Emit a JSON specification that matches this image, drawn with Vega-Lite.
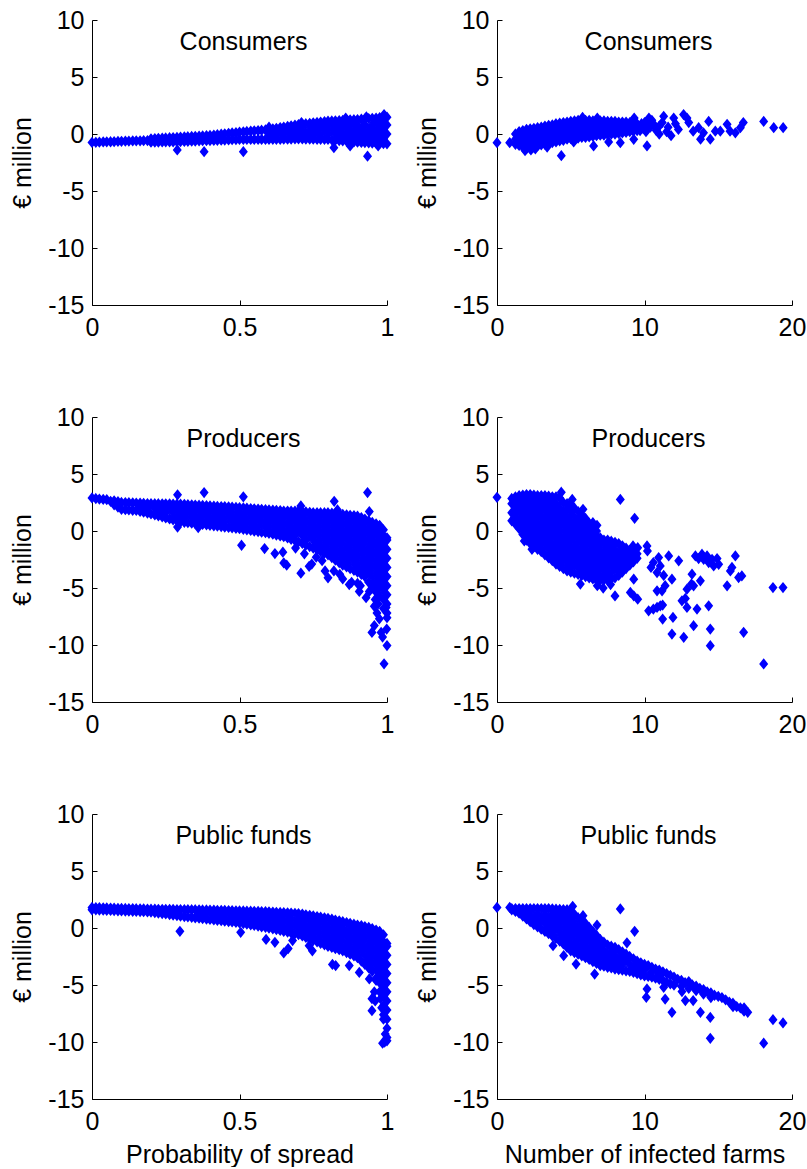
{
"$schema":"https://vega.github.io/schema/vega-lite/v6.json",
"background":"white",
"padding":{"left":10,"top":8,"right":0,"bottom":0},
"bounds":"flush",
"columns":2,
"spacing":{"row":112,"column":110},
"config":{
"view":{"stroke":null},
"font":"Liberation Sans",
"point":{"shape":"M0,-1L0.8,0L0,1L-0.8,0Z","filled":true,"size":76,"color":"#0000ff","fill":"#0000ff","stroke":"#0000ff","strokeWidth":1.6,"strokeJoin":"miter","opacity":1},
"axis":{"grid":false,"domainColor":"#000","domainWidth":1,"tickColor":"#000","tickWidth":1,"tickSize":-5,"labelFont":"Liberation Sans","labelFontSize":25,"labelColor":"#000","titleFont":"Liberation Sans","titleFontSize":25,"titleFontWeight":"normal","titleColor":"#000","labelFlush":false,"labelOverlap":false},
"axisY":{"labelPadding":13,"titlePadding":12},
"axisX":{"labelPadding":15,"titlePadding":8},
"title":{"font":"Liberation Sans","fontSize":25,"fontWeight":"normal","color":"#000","offset":-47,"baseline":"alphabetic","anchor":"middle","dx":4}
},
"datasets":{
"a":[
{"x":0,"y":-0.74},{"x":0.013,"y":-0.73},{"x":0.025,"y":-0.72},{"x":0.038,"y":-0.7},{"x":0.05,"y":-0.69},{"x":0.063,"y":-0.68},{"x":0.075,"y":-0.67},{"x":0.088,"y":-0.65},{"x":0.1,"y":-0.64},{"x":0.113,"y":-0.63},{"x":0.125,"y":-0.62},{"x":0.138,"y":-0.61},{"x":0.15,"y":-0.6},{"x":0.163,"y":-0.6},{"x":0.175,"y":-0.59},{"x":0.188,"y":-0.58},
{"x":0.2,"y":-0.72},{"x":0.2,"y":-0.42},{"x":0.213,"y":-0.71},{"x":0.213,"y":-0.4},{"x":0.225,"y":-0.71},{"x":0.225,"y":-0.38},{"x":0.238,"y":-0.7},{"x":0.238,"y":-0.37},{"x":0.25,"y":-0.69},{"x":0.25,"y":-0.35},{"x":0.263,"y":-0.69},{"x":0.263,"y":-0.33},{"x":0.275,"y":-0.68},{"x":0.275,"y":-0.31},{"x":0.288,"y":-0.67},{"x":0.288,"y":-0.3},{"x":0.3,"y":-0.66},{"x":0.3,"y":-0.28},{"x":0.313,"y":-0.65},{"x":0.313,"y":-0.26},{"x":0.325,"y":-0.64},{"x":0.325,"y":-0.24},{"x":0.338,"y":-0.63},{"x":0.338,"y":-0.22},{"x":0.35,"y":-0.62},{"x":0.35,"y":-0.2},{"x":0.363,"y":-0.6},{"x":0.363,"y":-0.19},{"x":0.375,"y":-0.59},{"x":0.375,"y":-0.17},{"x":0.388,"y":-0.58},{"x":0.388,"y":-0.15},{"x":0.4,"y":-0.57},{"x":0.4,"y":-0.13},{"x":0.413,"y":-0.56},{"x":0.413,"y":-0.09},{"x":0.425,"y":-0.55},{"x":0.425,"y":-0.06},{"x":0.438,"y":-0.54},{"x":0.438,"y":-0.02},{"x":0.45,"y":-0.53},{"x":0.45,"y":0.02},{"x":0.463,"y":-0.52},{"x":0.463,"y":0.06},{"x":0.475,"y":-0.5},{"x":0.475,"y":0.09},{"x":0.488,"y":-0.49},{"x":0.488,"y":0.12},
{"x":0.5,"y":-0.48},{"x":0.5,"y":0.16},{"x":0.513,"y":-0.48},{"x":0.513,"y":0.19},{"x":0.525,"y":-0.48},{"x":0.525,"y":0.22},{"x":0.538,"y":-0.48},{"x":0.538,"y":0.25},{"x":0.55,"y":-0.48},{"x":0.55,"y":0.28},{"x":0.563,"y":-0.48},{"x":0.563,"y":0.3},{"x":0.575,"y":-0.48},{"x":0.575,"y":0.33},{"x":0.588,"y":-0.48},{"x":0.588,"y":0.36},
{"x":0.6,"y":-0.48},{"x":0.6,"y":0},{"x":0.6,"y":0.39},{"x":0.613,"y":-0.47},{"x":0.613,"y":0.45},{"x":0.625,"y":-0.47},{"x":0.625,"y":0},{"x":0.625,"y":0.5},{"x":0.638,"y":-0.46},{"x":0.638,"y":0.4},{"x":0.638,"y":0.56},{"x":0.65,"y":-0.45},{"x":0.65,"y":0},{"x":0.65,"y":0.61},{"x":0.663,"y":-0.45},{"x":0.663,"y":0.4},{"x":0.663,"y":0.66},{"x":0.675,"y":-0.44},{"x":0.675,"y":0},{"x":0.675,"y":0.72},{"x":0.688,"y":-0.43},{"x":0.688,"y":0.4},{"x":0.688,"y":0.77},
{"x":0.7,"y":-0.42},{"x":0.7,"y":0},{"x":0.7,"y":0.83},{"x":0.713,"y":-0.43},{"x":0.713,"y":0.4},{"x":0.713,"y":0.87},{"x":0.725,"y":-0.44},{"x":0.725,"y":0},{"x":0.725,"y":0.9},{"x":0.738,"y":-0.44},{"x":0.738,"y":0.4},{"x":0.738,"y":0.94},{"x":0.75,"y":-0.45},{"x":0.75,"y":0},{"x":0.75,"y":0.8},{"x":0.75,"y":0.98},{"x":0.763,"y":-0.46},{"x":0.763,"y":0.4},{"x":0.763,"y":1.01},{"x":0.775,"y":-0.47},{"x":0.775,"y":0},{"x":0.775,"y":0.8},{"x":0.775,"y":1.05},{"x":0.788,"y":-0.47},{"x":0.788,"y":0.4},{"x":0.788,"y":1.08},
{"x":0.8,"y":-0.48},{"x":0.8,"y":0},{"x":0.8,"y":0.8},{"x":0.8,"y":1.12},{"x":0.813,"y":-0.51},{"x":0.813,"y":0.4},{"x":0.813,"y":1.14},{"x":0.825,"y":-0.54},{"x":0.825,"y":0},{"x":0.825,"y":0.8},{"x":0.825,"y":1.16},{"x":0.838,"y":-0.57},{"x":0.838,"y":-0.4},{"x":0.838,"y":0.4},{"x":0.838,"y":1.17},{"x":0.85,"y":-0.6},{"x":0.85,"y":0},{"x":0.85,"y":0.8},{"x":0.85,"y":1.19},{"x":0.863,"y":-0.63},{"x":0.863,"y":-0.4},{"x":0.863,"y":0.4},{"x":0.863,"y":1.21},{"x":0.875,"y":-0.66},{"x":0.875,"y":0},{"x":0.875,"y":0.8},{"x":0.875,"y":1.23},{"x":0.888,"y":-0.69},{"x":0.888,"y":-0.4},{"x":0.888,"y":0.4},{"x":0.888,"y":1.25},
{"x":0.9,"y":-0.72},{"x":0.9,"y":0},{"x":0.9,"y":0.8},{"x":0.9,"y":1.27},{"x":0.913,"y":-0.74},{"x":0.913,"y":-0.4},{"x":0.913,"y":0.4},{"x":0.913,"y":1.3},{"x":0.925,"y":-0.75},{"x":0.925,"y":0},{"x":0.925,"y":0.8},{"x":0.925,"y":1.32},{"x":0.938,"y":-0.77},{"x":0.938,"y":-0.4},{"x":0.938,"y":0.4},{"x":0.938,"y":1.35},{"x":0.95,"y":-0.79},{"x":0.95,"y":0},{"x":0.95,"y":0.8},{"x":0.95,"y":1.38},{"x":0.963,"y":-0.8},{"x":0.963,"y":-0.4},{"x":0.963,"y":0.4},{"x":0.963,"y":1.2},{"x":0.963,"y":1.4},{"x":0.975,"y":-0.82},{"x":0.975,"y":0},{"x":0.975,"y":0.8},{"x":0.975,"y":1.43},{"x":0.988,"y":-0.84},{"x":0.988,"y":-0.4},{"x":0.988,"y":0.4},{"x":0.988,"y":1.2},{"x":0.988,"y":1.45},{"x":1,"y":-0.86},{"x":1,"y":0},{"x":1,"y":0.8},{"x":1,"y":1.48},
{"x":0.289,"y":-1.4},{"x":0.38,"y":-1.55},{"x":0.513,"y":-1.55},{"x":0.82,"y":-1.2},{"x":0.875,"y":-1.05},{"x":0.934,"y":-1.95},{"x":0.99,"y":1.7},{"x":0.93,"y":1.5},{"x":0.86,"y":1.4},{"x":0.71,"y":1.0},{"x":0.6,"y":0.6},{"x":0.97,"y":-1.05}
],
"b":[
{"x":0,"y":-0.76},{"x":0.86,"y":-0.76},
{"x":1.25,"y":-0.9},{"x":1.25,"y":-0.45},{"x":1.25,"y":0},
{"x":1.5,"y":-1.0},{"x":1.5,"y":-0.4},{"x":1.5,"y":0.2},
{"x":1.75,"y":-1.15},{"x":1.75,"y":-0.7},{"x":1.75,"y":-0.2},{"x":1.75,"y":0.3},
{"x":2,"y":-1.3},{"x":2,"y":-0.7},{"x":2,"y":-0.1},{"x":2,"y":0.4},
{"x":2.25,"y":-1.25},{"x":2.25,"y":-0.95},{"x":2.25,"y":-0.4},{"x":2.25,"y":0.15},{"x":2.25,"y":0.45},
{"x":2.5,"y":-1.15},{"x":2.5,"y":-0.6},{"x":2.5,"y":-0.05},{"x":2.5,"y":0.5},
{"x":2.75,"y":-1.05},{"x":2.75,"y":-0.75},{"x":2.75,"y":-0.25},{"x":2.75,"y":0.25},{"x":2.75,"y":0.55},
{"x":3,"y":-0.95},{"x":3,"y":-0.4},{"x":3,"y":0.1},{"x":3,"y":0.6},
{"x":3.25,"y":-0.9},{"x":3.25,"y":-0.6},{"x":3.25,"y":-0.1},{"x":3.25,"y":0.35},{"x":3.25,"y":0.7},
{"x":3.5,"y":-0.85},{"x":3.5,"y":-0.3},{"x":3.5,"y":0.2},{"x":3.5,"y":0.75},
{"x":3.75,"y":-0.75},{"x":3.75,"y":-0.45},{"x":3.75,"y":0.05},{"x":3.75,"y":0.5},{"x":3.75,"y":0.8},
{"x":4,"y":-0.7},{"x":4,"y":-0.15},{"x":4,"y":0.35},{"x":4,"y":0.9},
{"x":4.25,"y":-0.6},{"x":4.25,"y":-0.3},{"x":4.25,"y":0.2},{"x":4.25,"y":0.65},{"x":4.25,"y":0.95},
{"x":4.5,"y":-0.55},{"x":4.5,"y":0},{"x":4.5,"y":0.5},{"x":4.5,"y":1.0},
{"x":4.75,"y":-0.45},{"x":4.75,"y":-0.15},{"x":4.75,"y":0.3},{"x":4.75,"y":0.75},{"x":4.75,"y":1.05},
{"x":5,"y":-0.4},{"x":5,"y":0.1},{"x":5,"y":0.6},{"x":5,"y":1.1},
{"x":5.25,"y":-0.35},{"x":5.25,"y":-0.05},{"x":5.25,"y":0.4},{"x":5.25,"y":0.85},{"x":5.25,"y":1.15},
{"x":5.5,"y":-0.35},{"x":5.5,"y":0.15},{"x":5.5,"y":0.7},{"x":5.5,"y":1.2},
{"x":5.75,"y":-0.3},{"x":5.75,"y":0},{"x":5.75,"y":0.45},{"x":5.75,"y":0.95},{"x":5.75,"y":1.25},
{"x":6,"y":-0.3},{"x":6,"y":0.2},{"x":6,"y":0.7},{"x":6,"y":1.2},
{"x":6.25,"y":-0.25},{"x":6.25,"y":0.05},{"x":6.25,"y":0.5},{"x":6.25,"y":0.9},{"x":6.25,"y":1.2},
{"x":6.5,"y":-0.2},{"x":6.5,"y":0.25},{"x":6.5,"y":0.7},{"x":6.5,"y":1.15},
{"x":6.75,"y":-0.15},{"x":6.75,"y":0.1},{"x":6.75,"y":0.5},{"x":6.75,"y":0.9},{"x":6.75,"y":1.15},
{"x":7,"y":-0.1},{"x":7,"y":0.35},{"x":7,"y":0.75},{"x":7,"y":1.15},
{"x":7.25,"y":-0.1},{"x":7.25,"y":0.15},{"x":7.25,"y":0.55},{"x":7.25,"y":0.9},{"x":7.25,"y":1.15},
{"x":7.5,"y":-0.05},{"x":7.5,"y":0.35},{"x":7.5,"y":0.75},{"x":7.5,"y":1.1},
{"x":7.75,"y":0},{"x":7.75,"y":0.3},{"x":7.75,"y":0.65},{"x":7.75,"y":1.1},
{"x":8,"y":0},{"x":8,"y":0.45},{"x":8,"y":0.85},{"x":8,"y":1.1},
{"x":8.25,"y":0.05},{"x":8.25,"y":0.3},{"x":8.25,"y":0.65},{"x":8.25,"y":1.05},
{"x":8.5,"y":0.1},{"x":8.5,"y":0.5},{"x":8.5,"y":0.85},{"x":8.5,"y":1.05},
{"x":8.75,"y":0.15},{"x":8.75,"y":0.35},{"x":8.75,"y":0.7},{"x":8.75,"y":1.05},
{"x":9,"y":0.2},{"x":9,"y":0.6},{"x":9,"y":1.0},
{"x":9.25,"y":0.25},{"x":9.25,"y":0.6},{"x":9.25,"y":0.95},
{"x":9.5,"y":0.3},{"x":9.5,"y":0.9},
{"x":1.9,"y":-1.45},{"x":2.3,"y":-1.4},{"x":2.6,"y":-1.3},{"x":3.4,"y":-1.15},{"x":4.36,"y":-1.9},{"x":6.55,"y":-1.05},{"x":7.57,"y":-0.7},{"x":8.36,"y":-0.76},{"x":9.27,"y":-0.47},{"x":10.17,"y":-1.05},{"x":5.2,"y":-0.7},{"x":5.8,"y":1.45},{"x":6.8,"y":1.4},{"x":9.3,"y":1.4},{"x":10.3,"y":1.4},{"x":9.8,"y":0.9},{"x":9.9,"y":0.5},{"x":10.1,"y":0.2},{"x":10.4,"y":0.6},{"x":10.6,"y":0.9},{"x":10.8,"y":0.3},{"x":11,"y":0.7},{"x":11.3,"y":1.55},{"x":11.5,"y":0.2},{"x":11.8,"y":-0.15},{"x":11.98,"y":1.4},{"x":12.3,"y":0.4},{"x":12.65,"y":1.7},{"x":12.88,"y":1.4},{"x":13,"y":1.0},{"x":13.3,"y":0.25},{"x":13.67,"y":0.55},{"x":13.8,"y":-0.45},{"x":14,"y":0.1},{"x":14.35,"y":1.1},{"x":14.46,"y":-0.45},{"x":14.8,"y":0.25},{"x":15.14,"y":0.25},{"x":15.6,"y":0.85},{"x":15.8,"y":0.25},{"x":16.16,"y":0.1},{"x":16.5,"y":0.55},{"x":16.7,"y":1.0},{"x":18.08,"y":1.1},{"x":18.76,"y":0.55},{"x":19.4,"y":0.55},{"x":10,"y":1.0},{"x":10.5,"y":1.2},{"x":11,"y":0},{"x":11.2,"y":1.0},{"x":12.1,"y":0.9},{"x":9.7,"y":0.3},{"x":10.2,"y":0.8},{"x":11.6,"y":0.6}
],
"c":[
{"x":0,"y":2.9},{"x":0.013,"y":2.85},{"x":0.025,"y":2.8},{"x":0.038,"y":2.77},{"x":0.05,"y":2.75},{"x":0.063,"y":2.6},
{"x":0.075,"y":2.3},{"x":0.075,"y":2.65},{"x":0.088,"y":2.1},{"x":0.088,"y":2.57},{"x":0.1,"y":1.9},{"x":0.1,"y":2.5},{"x":0.113,"y":1.87},{"x":0.113,"y":2.49},{"x":0.125,"y":1.85},{"x":0.125,"y":2.48},{"x":0.138,"y":1.82},{"x":0.138,"y":2.46},{"x":0.15,"y":1.8},{"x":0.15,"y":2.45},
{"x":0.163,"y":1.72},{"x":0.163,"y":2.0},{"x":0.163,"y":2.44},{"x":0.175,"y":1.65},{"x":0.175,"y":2.43},{"x":0.188,"y":1.57},{"x":0.188,"y":2.0},{"x":0.188,"y":2.41},{"x":0.2,"y":1.5},{"x":0.2,"y":2.4},
{"x":0.213,"y":1.41},{"x":0.213,"y":2.0},{"x":0.213,"y":2.39},{"x":0.225,"y":1.33},{"x":0.225,"y":1.6},{"x":0.225,"y":2.39},{"x":0.238,"y":1.24},{"x":0.238,"y":2.0},{"x":0.238,"y":2.38},{"x":0.25,"y":1.15},{"x":0.25,"y":1.6},{"x":0.25,"y":2.38},
{"x":0.263,"y":1.06},{"x":0.263,"y":2.0},{"x":0.263,"y":2.37},{"x":0.275,"y":0.98},{"x":0.275,"y":1.6},{"x":0.275,"y":2.36},{"x":0.288,"y":0.89},{"x":0.288,"y":1.2},{"x":0.288,"y":2.0},{"x":0.288,"y":2.36},{"x":0.3,"y":0.8},{"x":0.3,"y":1.6},{"x":0.3,"y":2.35},
{"x":0.313,"y":0.76},{"x":0.313,"y":1.2},{"x":0.313,"y":2.0},{"x":0.313,"y":2.33},{"x":0.325,"y":0.73},{"x":0.325,"y":1.6},{"x":0.325,"y":2.31},{"x":0.338,"y":0.69},{"x":0.338,"y":1.2},{"x":0.338,"y":2.0},{"x":0.338,"y":2.29},{"x":0.35,"y":0.65},{"x":0.35,"y":0.8},{"x":0.35,"y":1.6},{"x":0.35,"y":2.27},
{"x":0.363,"y":0.61},{"x":0.363,"y":1.2},{"x":0.363,"y":2.0},{"x":0.363,"y":2.26},{"x":0.375,"y":0.58},{"x":0.375,"y":0.8},{"x":0.375,"y":1.6},{"x":0.375,"y":2.24},{"x":0.388,"y":0.54},{"x":0.388,"y":1.2},{"x":0.388,"y":2.0},{"x":0.388,"y":2.22},{"x":0.4,"y":0.5},{"x":0.4,"y":0.8},{"x":0.4,"y":1.6},{"x":0.4,"y":2.2},
{"x":0.413,"y":0.46},{"x":0.413,"y":1.2},{"x":0.413,"y":2.0},{"x":0.413,"y":2.18},{"x":0.425,"y":0.43},{"x":0.425,"y":0.8},{"x":0.425,"y":1.6},{"x":0.425,"y":2.16},{"x":0.438,"y":0.39},{"x":0.438,"y":1.2},{"x":0.438,"y":2.0},{"x":0.438,"y":2.14},{"x":0.45,"y":0.35},{"x":0.45,"y":0.8},{"x":0.45,"y":1.6},{"x":0.45,"y":2.13},
{"x":0.463,"y":0.31},{"x":0.463,"y":1.2},{"x":0.463,"y":2.0},{"x":0.463,"y":2.11},{"x":0.475,"y":0.28},{"x":0.475,"y":0.8},{"x":0.475,"y":1.6},{"x":0.475,"y":2.09},{"x":0.488,"y":0.24},{"x":0.488,"y":0.4},{"x":0.488,"y":1.2},{"x":0.488,"y":2.07},{"x":0.5,"y":0.2},{"x":0.5,"y":0.8},{"x":0.5,"y":1.6},{"x":0.5,"y":2.05},
{"x":0.513,"y":0.15},{"x":0.513,"y":0.4},{"x":0.513,"y":1.2},{"x":0.513,"y":2.02},{"x":0.525,"y":0.1},{"x":0.525,"y":0.8},{"x":0.525,"y":1.6},{"x":0.525,"y":2.0},{"x":0.538,"y":0.05},{"x":0.538,"y":0.4},{"x":0.538,"y":1.2},{"x":0.538,"y":1.97},{"x":0.55,"y":0},{"x":0.55,"y":0.8},{"x":0.55,"y":1.6},{"x":0.55,"y":1.95},
{"x":0.563,"y":-0.05},{"x":0.563,"y":0.4},{"x":0.563,"y":1.2},{"x":0.563,"y":1.92},{"x":0.575,"y":-0.1},{"x":0.575,"y":0.8},{"x":0.575,"y":1.6},{"x":0.575,"y":1.9},{"x":0.588,"y":-0.15},{"x":0.588,"y":0.4},{"x":0.588,"y":1.2},{"x":0.588,"y":1.87},{"x":0.6,"y":-0.2},{"x":0.6,"y":0},{"x":0.6,"y":0.8},{"x":0.6,"y":1.6},{"x":0.6,"y":1.85},
{"x":0.613,"y":-0.28},{"x":0.613,"y":0.4},{"x":0.613,"y":1.2},{"x":0.613,"y":1.83},{"x":0.625,"y":-0.35},{"x":0.625,"y":0},{"x":0.625,"y":0.8},{"x":0.625,"y":1.6},{"x":0.625,"y":1.8},{"x":0.638,"y":-0.43},{"x":0.638,"y":0.4},{"x":0.638,"y":1.2},{"x":0.638,"y":1.78},{"x":0.65,"y":-0.5},{"x":0.65,"y":0},{"x":0.65,"y":0.8},{"x":0.65,"y":1.6},{"x":0.65,"y":1.75},
{"x":0.663,"y":-0.61},{"x":0.663,"y":-0.4},{"x":0.663,"y":0.4},{"x":0.663,"y":1.2},{"x":0.663,"y":1.75},{"x":0.675,"y":-0.73},{"x":0.675,"y":0},{"x":0.675,"y":0.8},{"x":0.675,"y":1.6},{"x":0.675,"y":1.75},{"x":0.688,"y":-0.84},{"x":0.688,"y":-0.4},{"x":0.688,"y":0.4},{"x":0.688,"y":1.2},{"x":0.688,"y":1.75},
{"x":0.7,"y":-0.95},{"x":0.7,"y":0},{"x":0.7,"y":0.8},{"x":0.7,"y":1.6},{"x":0.7,"y":1.75},{"x":0.713,"y":-1.09},{"x":0.713,"y":-0.4},{"x":0.713,"y":0.4},{"x":0.713,"y":1.2},{"x":0.713,"y":1.71},{"x":0.725,"y":-1.23},{"x":0.725,"y":-0.8},{"x":0.725,"y":0},{"x":0.725,"y":0.8},{"x":0.725,"y":1.68},{"x":0.738,"y":-1.36},{"x":0.738,"y":-0.4},{"x":0.738,"y":0.4},{"x":0.738,"y":1.2},{"x":0.738,"y":1.64},
{"x":0.75,"y":-1.5},{"x":0.75,"y":-0.8},{"x":0.75,"y":0},{"x":0.75,"y":0.8},{"x":0.75,"y":1.6},{"x":0.763,"y":-1.65},{"x":0.763,"y":-1.2},{"x":0.763,"y":-0.4},{"x":0.763,"y":0.4},{"x":0.763,"y":1.2},{"x":0.763,"y":1.6},{"x":0.775,"y":-1.8},{"x":0.775,"y":-1.6},{"x":0.775,"y":-0.8},{"x":0.775,"y":0},{"x":0.775,"y":0.8},{"x":0.775,"y":1.6},{"x":0.788,"y":-1.95},{"x":0.788,"y":-1.2},{"x":0.788,"y":-0.4},{"x":0.788,"y":0.4},{"x":0.788,"y":1.2},{"x":0.788,"y":1.6},
{"x":0.8,"y":-2.1},{"x":0.8,"y":-1.6},{"x":0.8,"y":-0.8},{"x":0.8,"y":0},{"x":0.8,"y":0.8},{"x":0.8,"y":1.6},{"x":0.813,"y":-2.33},{"x":0.813,"y":-2.0},{"x":0.813,"y":-1.2},{"x":0.813,"y":-0.4},{"x":0.813,"y":0.4},{"x":0.813,"y":1.2},{"x":0.813,"y":1.56},{"x":0.825,"y":-2.55},{"x":0.825,"y":-2.4},{"x":0.825,"y":-1.6},{"x":0.825,"y":-0.8},{"x":0.825,"y":0},{"x":0.825,"y":0.8},{"x":0.825,"y":1.52},{"x":0.838,"y":-2.78},{"x":0.838,"y":-2.0},{"x":0.838,"y":-1.2},{"x":0.838,"y":-0.4},{"x":0.838,"y":0.4},{"x":0.838,"y":1.2},{"x":0.838,"y":1.49},
{"x":0.85,"y":-3.0},{"x":0.85,"y":-2.4},{"x":0.85,"y":-1.6},{"x":0.85,"y":-0.8},{"x":0.85,"y":0},{"x":0.85,"y":0.8},{"x":0.85,"y":1.45},{"x":0.863,"y":-3.15},{"x":0.863,"y":-2.8},{"x":0.863,"y":-2.0},{"x":0.863,"y":-1.2},{"x":0.863,"y":-0.4},{"x":0.863,"y":0.4},{"x":0.863,"y":1.2},{"x":0.863,"y":1.41},{"x":0.875,"y":-3.3},{"x":0.875,"y":-2.4},{"x":0.875,"y":-1.6},{"x":0.875,"y":-0.8},{"x":0.875,"y":0},{"x":0.875,"y":0.8},{"x":0.875,"y":1.38},{"x":0.888,"y":-3.45},{"x":0.888,"y":-2.8},{"x":0.888,"y":-2.0},{"x":0.888,"y":-1.2},{"x":0.888,"y":-0.4},{"x":0.888,"y":0.4},{"x":0.888,"y":1.2},{"x":0.888,"y":1.34},
{"x":0.9,"y":-3.6},{"x":0.9,"y":-3.2},{"x":0.9,"y":-2.4},{"x":0.9,"y":-1.6},{"x":0.9,"y":-0.8},{"x":0.9,"y":0},{"x":0.9,"y":0.8},{"x":0.9,"y":1.3},{"x":0.913,"y":-3.8},{"x":0.913,"y":-3.6},{"x":0.913,"y":-2.8},{"x":0.913,"y":-2.0},{"x":0.913,"y":-1.2},{"x":0.913,"y":-0.4},{"x":0.913,"y":0.4},{"x":0.913,"y":1.18},{"x":0.925,"y":-4.0},{"x":0.925,"y":-3.2},{"x":0.925,"y":-2.4},{"x":0.925,"y":-1.6},{"x":0.925,"y":-0.8},{"x":0.925,"y":0},{"x":0.925,"y":0.8},{"x":0.925,"y":1.05},{"x":0.938,"y":-4.5},{"x":0.938,"y":-3.6},{"x":0.938,"y":-2.8},{"x":0.938,"y":-2.0},{"x":0.938,"y":-1.2},{"x":0.938,"y":-0.4},{"x":0.938,"y":0.4},{"x":0.938,"y":0.9},
{"x":0.95,"y":-5.0},{"x":0.95,"y":-4.8},{"x":0.95,"y":-4.0},{"x":0.95,"y":-3.2},{"x":0.95,"y":-2.4},{"x":0.95,"y":-1.6},{"x":0.95,"y":-0.8},{"x":0.95,"y":0},{"x":0.95,"y":0.75},{"x":0.963,"y":-5.35},{"x":0.963,"y":-5.2},{"x":0.963,"y":-4.4},{"x":0.963,"y":-3.6},{"x":0.963,"y":-2.8},{"x":0.963,"y":-2.0},{"x":0.963,"y":-1.2},{"x":0.963,"y":-0.4},{"x":0.963,"y":0.4},{"x":0.963,"y":0.62},
{"x":0.975,"y":-5.7},{"x":0.975,"y":-4.8},{"x":0.975,"y":-4.0},{"x":0.975,"y":-3.2},{"x":0.975,"y":-2.4},{"x":0.975,"y":-1.6},{"x":0.975,"y":-0.8},{"x":0.975,"y":0},{"x":0.975,"y":0.5},{"x":0.988,"y":-6.8},{"x":0.988,"y":-6.0},{"x":0.988,"y":-5.2},{"x":0.988,"y":-4.4},{"x":0.988,"y":-3.6},{"x":0.988,"y":-2.8},{"x":0.988,"y":-2.0},{"x":0.988,"y":-1.2},{"x":0.988,"y":-0.4},{"x":0.988,"y":0.1},
{"x":1,"y":-7.6},{"x":1,"y":-7.2},{"x":1,"y":-6.4},{"x":1,"y":-5.6},{"x":1,"y":-4.8},{"x":1,"y":-4.0},{"x":1,"y":-3.2},{"x":1,"y":-2.4},{"x":1,"y":-1.6},{"x":1,"y":-0.8},{"x":1,"y":-0.6},
{"x":0.29,"y":0.35},{"x":0.36,"y":0.3},{"x":0.38,"y":3.37},{"x":0.29,"y":3.17},{"x":0.507,"y":-1.25},{"x":0.513,"y":3.0},{"x":0.585,"y":-1.54},{"x":0.62,"y":-1.98},{"x":0.647,"y":-1.86},{"x":0.65,"y":-2.8},{"x":0.66,"y":-3.0},{"x":0.708,"y":-3.7},{"x":0.736,"y":-3.1},{"x":0.745,"y":-2.9},{"x":0.8,"y":-4.1},{"x":0.79,"y":-3.5},{"x":0.872,"y":-4.7},{"x":0.85,"y":-4.2},{"x":0.906,"y":-5.3},{"x":0.94,"y":-5.3},{"x":0.929,"y":-5.85},{"x":0.949,"y":-8.9},{"x":0.957,"y":-8.3},{"x":0.974,"y":-7.7},{"x":0.98,"y":-8.9},{"x":0.985,"y":-9.3},{"x":0.999,"y":-8.6},{"x":1,"y":-10.05},{"x":0.99,"y":-11.65},{"x":0.997,"y":-6.7},{"x":0.966,"y":-7.2},{"x":0.957,"y":-6.6},{"x":0.934,"y":3.37},{"x":0.94,"y":1.7},{"x":0.821,"y":2.6},{"x":0.832,"y":1.85},{"x":0.708,"y":2.2},{"x":0.96,"y":-6.0},{"x":0.97,"y":-6.4},{"x":0.76,"y":-2.3},{"x":0.78,"y":-2.6},{"x":0.82,"y":-3.5},{"x":0.84,"y":-3.8},{"x":0.88,"y":-4.5},{"x":0.9,"y":-4.6},{"x":0.91,"y":-4.8},{"x":0.69,"y":-1.5},{"x":0.72,"y":-2.0}
],
"d":[
{"x":0,"y":2.95},
{"x":1,"y":0.9},{"x":1,"y":1.6},{"x":1,"y":2.4},{"x":1,"y":2.85},
{"x":1.25,"y":0.6},{"x":1.25,"y":1.2},{"x":1.25,"y":2.0},{"x":1.25,"y":2.8},{"x":1.25,"y":3.0},
{"x":1.5,"y":0.2},{"x":1.5,"y":0.8},{"x":1.5,"y":1.6},{"x":1.5,"y":2.4},{"x":1.5,"y":3.1},
{"x":1.75,"y":-0.3},{"x":1.75,"y":0.4},{"x":1.75,"y":1.2},{"x":1.75,"y":2.0},{"x":1.75,"y":2.8},{"x":1.75,"y":3.15},
{"x":2,"y":-0.8},{"x":2,"y":0},{"x":2,"y":0.8},{"x":2,"y":1.6},{"x":2,"y":2.4},{"x":2,"y":3.2},
{"x":2.25,"y":-1.1},{"x":2.25,"y":-0.4},{"x":2.25,"y":0.4},{"x":2.25,"y":1.2},{"x":2.25,"y":2.0},{"x":2.25,"y":2.8},{"x":2.25,"y":3.2},
{"x":2.5,"y":-1.4},{"x":2.5,"y":-0.8},{"x":2.5,"y":0},{"x":2.5,"y":0.8},{"x":2.5,"y":1.6},{"x":2.5,"y":2.4},{"x":2.5,"y":3.15},
{"x":2.75,"y":-1.6},{"x":2.75,"y":-1.2},{"x":2.75,"y":-0.4},{"x":2.75,"y":0.4},{"x":2.75,"y":1.2},{"x":2.75,"y":2.0},{"x":2.75,"y":2.8},{"x":2.75,"y":3.1},
{"x":3,"y":-1.8},{"x":3,"y":-1.6},{"x":3,"y":-0.8},{"x":3,"y":0},{"x":3,"y":0.8},{"x":3,"y":1.6},{"x":3,"y":2.4},{"x":3,"y":3.1},
{"x":3.25,"y":-2.1},{"x":3.25,"y":-1.2},{"x":3.25,"y":-0.4},{"x":3.25,"y":0.4},{"x":3.25,"y":1.2},{"x":3.25,"y":2.0},{"x":3.25,"y":2.8},{"x":3.25,"y":3.1},
{"x":3.5,"y":-2.35},{"x":3.5,"y":-1.6},{"x":3.5,"y":-0.8},{"x":3.5,"y":0},{"x":3.5,"y":0.8},{"x":3.5,"y":1.6},{"x":3.5,"y":2.4},{"x":3.5,"y":3.05},
{"x":3.75,"y":-2.6},{"x":3.75,"y":-2.0},{"x":3.75,"y":-1.2},{"x":3.75,"y":-0.4},{"x":3.75,"y":0.4},{"x":3.75,"y":1.2},{"x":3.75,"y":2.0},{"x":3.75,"y":2.8},{"x":3.75,"y":3.0},
{"x":4,"y":-2.9},{"x":4,"y":-2.4},{"x":4,"y":-1.6},{"x":4,"y":-0.8},{"x":4,"y":0},{"x":4,"y":0.8},{"x":4,"y":1.6},{"x":4,"y":2.4},{"x":4,"y":3.0},
{"x":4.25,"y":-3.1},{"x":4.25,"y":-2.8},{"x":4.25,"y":-2.0},{"x":4.25,"y":-1.2},{"x":4.25,"y":-0.4},{"x":4.25,"y":0.4},{"x":4.25,"y":1.2},{"x":4.25,"y":2.0},{"x":4.25,"y":2.9},
{"x":4.5,"y":-3.3},{"x":4.5,"y":-2.4},{"x":4.5,"y":-1.6},{"x":4.5,"y":-0.8},{"x":4.5,"y":0},{"x":4.5,"y":0.8},{"x":4.5,"y":1.6},{"x":4.5,"y":2.5},
{"x":4.75,"y":-3.5},{"x":4.75,"y":-2.8},{"x":4.75,"y":-2.0},{"x":4.75,"y":-1.2},{"x":4.75,"y":-0.4},{"x":4.75,"y":0.4},{"x":4.75,"y":1.2},{"x":4.75,"y":2.0},{"x":4.75,"y":2.4},
{"x":5,"y":-3.6},{"x":5,"y":-3.2},{"x":5,"y":-2.4},{"x":5,"y":-1.6},{"x":5,"y":-0.8},{"x":5,"y":0},{"x":5,"y":0.8},{"x":5,"y":1.6},{"x":5,"y":2.4},
{"x":5.25,"y":-3.7},{"x":5.25,"y":-2.8},{"x":5.25,"y":-2.0},{"x":5.25,"y":-1.2},{"x":5.25,"y":-0.4},{"x":5.25,"y":0.4},{"x":5.25,"y":1.2},{"x":5.25,"y":2.0},
{"x":5.5,"y":-3.8},{"x":5.5,"y":-3.2},{"x":5.5,"y":-2.4},{"x":5.5,"y":-1.6},{"x":5.5,"y":-0.8},{"x":5.5,"y":0},{"x":5.5,"y":0.8},{"x":5.5,"y":1.7},
{"x":5.75,"y":-3.9},{"x":5.75,"y":-3.6},{"x":5.75,"y":-2.8},{"x":5.75,"y":-2.0},{"x":5.75,"y":-1.2},{"x":5.75,"y":-0.4},{"x":5.75,"y":0.4},{"x":5.75,"y":1.2},{"x":5.75,"y":1.4},
{"x":6,"y":-4.0},{"x":6,"y":-3.2},{"x":6,"y":-2.4},{"x":6,"y":-1.6},{"x":6,"y":-0.8},{"x":6,"y":0},{"x":6,"y":0.8},{"x":6,"y":1.1},
{"x":6.25,"y":-4.1},{"x":6.25,"y":-3.6},{"x":6.25,"y":-2.8},{"x":6.25,"y":-2.0},{"x":6.25,"y":-1.2},{"x":6.25,"y":-0.4},{"x":6.25,"y":0.4},{"x":6.25,"y":0.7},
{"x":6.5,"y":-4.2},{"x":6.5,"y":-4.0},{"x":6.5,"y":-3.2},{"x":6.5,"y":-2.4},{"x":6.5,"y":-1.6},{"x":6.5,"y":-0.8},{"x":6.5,"y":0},{"x":6.5,"y":0.35},
{"x":6.75,"y":-4.3},{"x":6.75,"y":-3.6},{"x":6.75,"y":-2.8},{"x":6.75,"y":-2.0},{"x":6.75,"y":-1.2},{"x":6.75,"y":-0.4},{"x":6.75,"y":0},
{"x":7,"y":-4.3},{"x":7,"y":-4.0},{"x":7,"y":-3.2},{"x":7,"y":-2.4},{"x":7,"y":-1.6},{"x":7,"y":-0.8},{"x":7,"y":-0.6},
{"x":7.25,"y":-4.3},{"x":7.25,"y":-3.6},{"x":7.25,"y":-2.8},{"x":7.25,"y":-2.0},{"x":7.25,"y":-1.2},{"x":7.25,"y":-0.8},
{"x":7.5,"y":-4.3},{"x":7.5,"y":-4.0},{"x":7.5,"y":-3.2},{"x":7.5,"y":-2.4},{"x":7.5,"y":-1.6},{"x":7.5,"y":-0.8},
{"x":7.75,"y":-4.2},{"x":7.75,"y":-3.6},{"x":7.75,"y":-2.8},{"x":7.75,"y":-2.0},{"x":7.75,"y":-1.2},{"x":7.75,"y":-0.9},
{"x":8,"y":-4.1},{"x":8,"y":-3.2},{"x":8,"y":-2.4},{"x":8,"y":-1.6},{"x":8,"y":-1.0},
{"x":8.25,"y":-3.9},{"x":8.25,"y":-3.6},{"x":8.25,"y":-2.8},{"x":8.25,"y":-2.0},{"x":8.25,"y":-1.1},
{"x":8.5,"y":-3.6},{"x":8.5,"y":-3.2},{"x":8.5,"y":-2.4},{"x":8.5,"y":-1.6},{"x":8.5,"y":-1.3},
{"x":8.75,"y":-3.3},{"x":8.75,"y":-2.8},{"x":8.75,"y":-2.0},{"x":8.75,"y":-1.5},
{"x":9,"y":-3.0},{"x":9,"y":-2.4},{"x":9,"y":-1.7},
{"x":9.25,"y":-2.7},{"x":9.25,"y":-2.0},{"x":9.25,"y":-1.8},
{"x":9.5,"y":-2.4},{"x":9.5,"y":-2.0},
{"x":1.85,"y":-0.87},{"x":2.37,"y":-1.6},{"x":4.36,"y":3.4},{"x":5.1,"y":2.77},{"x":5.13,"y":2.04},{"x":5.83,"y":1.9},{"x":6.5,"y":0.73},{"x":6.78,"y":0.5},{"x":5.65,"y":-4.66},{"x":8,"y":-5.7},{"x":7.2,"y":-5.0},{"x":6.8,"y":-4.8},{"x":7.7,"y":-4.7},
{"x":8.36,"y":2.77},{"x":9.33,"y":1.11},{"x":9.22,"y":-1.31},{"x":9.54,"y":-1.46},{"x":10.17,"y":-1.31},{"x":10.2,"y":-1.75},{"x":9.27,"y":-4.23},{"x":9.04,"y":-5.39},{"x":9.27,"y":-5.69},{"x":9.54,"y":-5.98},{"x":10.28,"y":-7.0},{"x":10.6,"y":-6.85},{"x":10.85,"y":-6.7},{"x":11.07,"y":-6.56},{"x":11.23,"y":-6.5},{"x":10.44,"y":-3.2},{"x":10.6,"y":-2.77},{"x":10.85,"y":-3.64},{"x":10.96,"y":-2.33},{"x":11.07,"y":-3.06},{"x":11.3,"y":-3.9},{"x":11.4,"y":-4.8},{"x":10.85,"y":-5.25},{"x":11.19,"y":-5.25},{"x":11.64,"y":-2.19},{"x":11.86,"y":-4.23},{"x":11.23,"y":-7.73},{"x":11.93,"y":-7.58},{"x":11.86,"y":-9.04},{"x":12.66,"y":-9.33},{"x":12.32,"y":-2.62},{"x":12.54,"y":-6.12},{"x":12.77,"y":-5.92},{"x":12.88,"y":-6.7},{"x":12.88,"y":-5.1},{"x":13.18,"y":-4.66},{"x":13.22,"y":-3.79},{"x":13.33,"y":-4.81},{"x":13.56,"y":-6.85},{"x":13.33,"y":-8.31},{"x":13.79,"y":-4.37},{"x":13.45,"y":-2.19},{"x":13.67,"y":-2.42},{"x":13.9,"y":-2.04},{"x":14.01,"y":-2.48},{"x":14.24,"y":-2.19},{"x":14.58,"y":-2.48},{"x":14.35,"y":-2.77},{"x":14.69,"y":-3.06},{"x":14.92,"y":-2.42},{"x":15.03,"y":-2.92},{"x":14.35,"y":-6.56},{"x":14.46,"y":-8.6},{"x":14.46,"y":-10.06},{"x":15.6,"y":-4.81},{"x":15.82,"y":-3.5},{"x":15.93,"y":-3.2},{"x":16.16,"y":-2.19},{"x":16.38,"y":-4.08},{"x":16.6,"y":-3.94},{"x":16.72,"y":-8.89},{"x":18.08,"y":-11.66},{"x":18.71,"y":-4.96},{"x":19.39,"y":-4.96}
],
"e":[
{"x":0,"y":1.6},{"x":0,"y":1.8},{"x":0.013,"y":1.59},{"x":0.013,"y":1.79},{"x":0.025,"y":1.58},{"x":0.025,"y":1.78},{"x":0.038,"y":1.56},{"x":0.038,"y":1.77},{"x":0.05,"y":1.55},{"x":0.05,"y":1.76},{"x":0.063,"y":1.54},{"x":0.063,"y":1.75},{"x":0.075,"y":1.53},{"x":0.075,"y":1.74},{"x":0.088,"y":1.51},{"x":0.088,"y":1.73},{"x":0.1,"y":1.5},{"x":0.1,"y":1.72},{"x":0.113,"y":1.49},{"x":0.113,"y":1.71},{"x":0.125,"y":1.48},{"x":0.125,"y":1.7},{"x":0.138,"y":1.46},{"x":0.138,"y":1.7},{"x":0.15,"y":1.45},{"x":0.15,"y":1.69},{"x":0.163,"y":1.44},{"x":0.163,"y":1.68},{"x":0.175,"y":1.43},{"x":0.175,"y":1.67},{"x":0.188,"y":1.41},{"x":0.188,"y":1.66},{"x":0.2,"y":1.4},{"x":0.2,"y":1.65},{"x":0.213,"y":1.36},{"x":0.213,"y":1.65},{"x":0.225,"y":1.31},{"x":0.225,"y":1.64},{"x":0.238,"y":1.27},{"x":0.238,"y":1.64},{"x":0.25,"y":1.23},{"x":0.25,"y":1.64},{"x":0.263,"y":1.18},{"x":0.263,"y":1.63},{"x":0.275,"y":1.14},{"x":0.275,"y":1.63},{"x":0.288,"y":1.09},{"x":0.288,"y":1.62},{"x":0.3,"y":1.05},{"x":0.3,"y":1.62},{"x":0.313,"y":1.01},{"x":0.313,"y":1.61},
{"x":0.325,"y":0.98},{"x":0.325,"y":1.61},{"x":0.338,"y":0.94},{"x":0.338,"y":1.6},{"x":0.35,"y":0.9},{"x":0.35,"y":1.6},{"x":0.363,"y":0.86},{"x":0.363,"y":1.2},{"x":0.363,"y":1.59},{"x":0.375,"y":0.83},{"x":0.375,"y":1.58},{"x":0.388,"y":0.79},{"x":0.388,"y":1.2},{"x":0.388,"y":1.58},{"x":0.4,"y":0.75},{"x":0.4,"y":1.57},
{"x":0.413,"y":0.71},{"x":0.413,"y":1.2},{"x":0.413,"y":1.56},{"x":0.425,"y":0.68},{"x":0.425,"y":0.8},{"x":0.425,"y":1.55},{"x":0.438,"y":0.64},{"x":0.438,"y":1.2},{"x":0.438,"y":1.54},{"x":0.45,"y":0.6},{"x":0.45,"y":0.8},{"x":0.45,"y":1.54},{"x":0.463,"y":0.56},{"x":0.463,"y":1.2},{"x":0.463,"y":1.53},{"x":0.475,"y":0.53},{"x":0.475,"y":0.8},{"x":0.475,"y":1.52},{"x":0.488,"y":0.49},{"x":0.488,"y":1.2},{"x":0.488,"y":1.51},
{"x":0.5,"y":0.45},{"x":0.5,"y":0.8},{"x":0.5,"y":1.5},{"x":0.513,"y":0.39},{"x":0.513,"y":1.2},{"x":0.513,"y":1.49},{"x":0.525,"y":0.34},{"x":0.525,"y":0.8},{"x":0.525,"y":1.48},{"x":0.538,"y":0.28},{"x":0.538,"y":0.4},{"x":0.538,"y":1.2},{"x":0.538,"y":1.47},{"x":0.55,"y":0.23},{"x":0.55,"y":0.8},{"x":0.55,"y":1.46},{"x":0.563,"y":0.17},{"x":0.563,"y":0.4},{"x":0.563,"y":1.2},{"x":0.563,"y":1.45},{"x":0.575,"y":0.11},{"x":0.575,"y":0.8},{"x":0.575,"y":1.44},{"x":0.588,"y":0.06},{"x":0.588,"y":0.4},{"x":0.588,"y":1.2},{"x":0.588,"y":1.43},
{"x":0.6,"y":0},{"x":0.6,"y":0.8},{"x":0.6,"y":1.42},{"x":0.613,"y":-0.07},{"x":0.613,"y":0.4},{"x":0.613,"y":1.2},{"x":0.613,"y":1.4},{"x":0.625,"y":-0.14},{"x":0.625,"y":0},{"x":0.625,"y":0.8},{"x":0.625,"y":1.38},{"x":0.638,"y":-0.21},{"x":0.638,"y":0.4},{"x":0.638,"y":1.2},{"x":0.638,"y":1.36},{"x":0.65,"y":-0.29},{"x":0.65,"y":0},{"x":0.65,"y":0.8},{"x":0.65,"y":1.35},{"x":0.663,"y":-0.36},{"x":0.663,"y":0.4},{"x":0.663,"y":1.2},{"x":0.663,"y":1.33},{"x":0.675,"y":-0.43},{"x":0.675,"y":0},{"x":0.675,"y":0.8},{"x":0.675,"y":1.31},{"x":0.688,"y":-0.5},{"x":0.688,"y":0.4},{"x":0.688,"y":1.29},
{"x":0.7,"y":-0.57},{"x":0.7,"y":0},{"x":0.7,"y":0.8},{"x":0.7,"y":1.27},{"x":0.713,"y":-0.7},{"x":0.713,"y":-0.4},{"x":0.713,"y":0.4},{"x":0.713,"y":1.22},{"x":0.725,"y":-0.83},{"x":0.725,"y":0},{"x":0.725,"y":0.8},{"x":0.725,"y":1.16},{"x":0.738,"y":-0.96},{"x":0.738,"y":-0.4},{"x":0.738,"y":0.4},{"x":0.738,"y":1.11},{"x":0.75,"y":-1.09},{"x":0.75,"y":-0.8},{"x":0.75,"y":0},{"x":0.75,"y":0.8},{"x":0.75,"y":1.06},{"x":0.763,"y":-1.21},{"x":0.763,"y":-0.4},{"x":0.763,"y":0.4},{"x":0.763,"y":1.0},{"x":0.775,"y":-1.34},{"x":0.775,"y":-0.8},{"x":0.775,"y":0},{"x":0.775,"y":0.8},{"x":0.775,"y":0.95},{"x":0.788,"y":-1.47},{"x":0.788,"y":-1.2},{"x":0.788,"y":-0.4},{"x":0.788,"y":0.4},{"x":0.788,"y":0.89},
{"x":0.8,"y":-1.6},{"x":0.8,"y":-0.8},{"x":0.8,"y":0},{"x":0.8,"y":0.84},{"x":0.813,"y":-1.7},{"x":0.813,"y":-1.2},{"x":0.813,"y":-0.4},{"x":0.813,"y":0.4},{"x":0.813,"y":0.77},{"x":0.825,"y":-1.8},{"x":0.825,"y":-1.6},{"x":0.825,"y":-0.8},{"x":0.825,"y":0},{"x":0.825,"y":0.7},{"x":0.838,"y":-1.9},{"x":0.838,"y":-1.2},{"x":0.838,"y":-0.4},{"x":0.838,"y":0.4},{"x":0.838,"y":0.62},
{"x":0.85,"y":-2.0},{"x":0.85,"y":-1.6},{"x":0.85,"y":-0.8},{"x":0.85,"y":0},{"x":0.85,"y":0.55},{"x":0.863,"y":-2.15},{"x":0.863,"y":-2.0},{"x":0.863,"y":-1.2},{"x":0.863,"y":-0.4},{"x":0.863,"y":0.48},{"x":0.875,"y":-2.3},{"x":0.875,"y":-1.6},{"x":0.875,"y":-0.8},{"x":0.875,"y":0},{"x":0.875,"y":0.4},{"x":0.888,"y":-2.45},{"x":0.888,"y":-2.0},{"x":0.888,"y":-1.2},{"x":0.888,"y":-0.4},{"x":0.888,"y":0.33},
{"x":0.9,"y":-2.6},{"x":0.9,"y":-2.4},{"x":0.9,"y":-1.6},{"x":0.9,"y":-0.8},{"x":0.9,"y":0},{"x":0.9,"y":0.26},{"x":0.913,"y":-2.9},{"x":0.913,"y":-2.0},{"x":0.913,"y":-1.2},{"x":0.913,"y":-0.4},{"x":0.913,"y":0.2},{"x":0.925,"y":-3.2},{"x":0.925,"y":-2.4},{"x":0.925,"y":-1.6},{"x":0.925,"y":-0.8},{"x":0.925,"y":0},{"x":0.925,"y":0.13},{"x":0.938,"y":-3.5},{"x":0.938,"y":-2.8},{"x":0.938,"y":-2.0},{"x":0.938,"y":-1.2},{"x":0.938,"y":-0.4},{"x":0.938,"y":0.05},
{"x":0.95,"y":-3.8},{"x":0.95,"y":-3.2},{"x":0.95,"y":-2.4},{"x":0.95,"y":-1.6},{"x":0.95,"y":-0.8},{"x":0.95,"y":-0.05},{"x":0.963,"y":-4.6},{"x":0.963,"y":-4.4},{"x":0.963,"y":-3.6},{"x":0.963,"y":-2.8},{"x":0.963,"y":-2.0},{"x":0.963,"y":-1.2},{"x":0.963,"y":-0.4},{"x":0.963,"y":-0.18},
{"x":0.975,"y":-5.6},{"x":0.975,"y":-4.8},{"x":0.975,"y":-4.0},{"x":0.975,"y":-3.2},{"x":0.975,"y":-2.4},{"x":0.975,"y":-1.6},{"x":0.975,"y":-0.8},{"x":0.975,"y":-0.3},
{"x":0.988,"y":-8.0},{"x":0.988,"y":-7.6},{"x":0.988,"y":-6.8},{"x":0.988,"y":-6.0},{"x":0.988,"y":-5.2},{"x":0.988,"y":-4.4},{"x":0.988,"y":-3.6},{"x":0.988,"y":-2.8},{"x":0.988,"y":-2.0},{"x":0.988,"y":-1.2},{"x":0.988,"y":-0.6},
{"x":1,"y":-9.9},{"x":1,"y":-9.6},{"x":1,"y":-8.8},{"x":1,"y":-8.0},{"x":1,"y":-7.2},{"x":1,"y":-6.4},{"x":1,"y":-5.6},{"x":1,"y":-4.8},{"x":1,"y":-4.0},{"x":1,"y":-3.2},{"x":1,"y":-2.4},{"x":1,"y":-1.6},{"x":1,"y":-1.35},
{"x":0.994,"y":-9.3},{"x":0.982,"y":-7.0},{"x":0.978,"y":-6.2},{"x":0.985,"y":-10.1},{"x":0.992,"y":-10.0},
{"x":0.298,"y":-0.29},{"x":0.504,"y":-0.38},{"x":0.62,"y":-1.26},{"x":0.65,"y":-2.19},{"x":0.665,"y":-1.8},{"x":0.736,"y":-1.55},{"x":0.747,"y":-2.0},{"x":0.815,"y":-3.2},{"x":0.826,"y":-3.3},{"x":0.872,"y":-3.3},{"x":0.906,"y":-3.9},{"x":0.94,"y":-4.47},{"x":0.949,"y":-6.2},{"x":0.957,"y":-5.6},{"x":0.949,"y":-7.25},{"x":0.96,"y":-6.4},{"x":0.59,"y":-1.0},{"x":0.68,"y":-1.1}
],
"f":[
{"x":0,"y":1.8},{"x":0.86,"y":1.8},
{"x":1,"y":1.6},{"x":1,"y":1.7},{"x":1.25,"y":1.45},{"x":1.25,"y":1.7},{"x":1.5,"y":1.3},{"x":1.5,"y":1.7},
{"x":1.75,"y":1.05},{"x":1.75,"y":1.7},{"x":2,"y":0.8},{"x":2,"y":1.25},{"x":2,"y":1.7},{"x":2.25,"y":0.55},{"x":2.25,"y":1.2},{"x":2.25,"y":1.7},{"x":2.5,"y":0.3},{"x":2.5,"y":0.8},{"x":2.5,"y":1.7},
{"x":2.75,"y":0.1},{"x":2.75,"y":0.4},{"x":2.75,"y":1.2},{"x":2.75,"y":1.7},{"x":3,"y":-0.1},{"x":3,"y":0.8},{"x":3,"y":1.7},{"x":3.25,"y":-0.3},{"x":3.25,"y":0.4},{"x":3.25,"y":1.2},{"x":3.25,"y":1.7},{"x":3.5,"y":-0.5},{"x":3.5,"y":0},{"x":3.5,"y":0.8},{"x":3.5,"y":1.7},
{"x":3.75,"y":-0.7},{"x":3.75,"y":-0.4},{"x":3.75,"y":0.4},{"x":3.75,"y":1.2},{"x":3.75,"y":1.67},{"x":4,"y":-0.9},{"x":4,"y":0},{"x":4,"y":0.8},{"x":4,"y":1.65},{"x":4.25,"y":-1.15},{"x":4.25,"y":-0.4},{"x":4.25,"y":0.4},{"x":4.25,"y":1.2},{"x":4.25,"y":1.63},{"x":4.5,"y":-1.4},{"x":4.5,"y":-0.8},{"x":4.5,"y":0},{"x":4.5,"y":0.8},{"x":4.5,"y":1.62},
{"x":4.75,"y":-1.7},{"x":4.75,"y":-1.2},{"x":4.75,"y":-0.4},{"x":4.75,"y":0.4},{"x":4.75,"y":1.2},{"x":4.75,"y":1.6},{"x":5,"y":-2.0},{"x":5,"y":-1.6},{"x":5,"y":-0.8},{"x":5,"y":0},{"x":5,"y":0.8},{"x":5,"y":1.5},
{"x":5.25,"y":-2.15},{"x":5.25,"y":-2.0},{"x":5.25,"y":-1.2},{"x":5.25,"y":-0.4},{"x":5.25,"y":0.4},{"x":5.25,"y":1.2},{"x":5.5,"y":-2.3},{"x":5.5,"y":-1.6},{"x":5.5,"y":-0.8},{"x":5.5,"y":0},{"x":5.5,"y":0.9},
{"x":5.75,"y":-2.45},{"x":5.75,"y":-2.0},{"x":5.75,"y":-1.2},{"x":5.75,"y":-0.4},{"x":5.75,"y":0.4},{"x":5.75,"y":0.65},{"x":6,"y":-2.6},{"x":6,"y":-2.4},{"x":6,"y":-1.6},{"x":6,"y":-0.8},{"x":6,"y":0},{"x":6,"y":0.4},
{"x":6.25,"y":-2.75},{"x":6.25,"y":-2.0},{"x":6.25,"y":-1.2},{"x":6.25,"y":-0.4},{"x":6.25,"y":0.05},{"x":6.5,"y":-2.95},{"x":6.5,"y":-2.4},{"x":6.5,"y":-1.6},{"x":6.5,"y":-0.8},{"x":6.5,"y":-0.3},
{"x":6.75,"y":-3.1},{"x":6.75,"y":-2.8},{"x":6.75,"y":-2.0},{"x":6.75,"y":-1.2},{"x":6.75,"y":-0.65},{"x":7,"y":-3.3},{"x":7,"y":-2.4},{"x":7,"y":-1.6},{"x":7,"y":-1.0},
{"x":7.25,"y":-3.35},{"x":7.25,"y":-2.8},{"x":7.25,"y":-2.0},{"x":7.25,"y":-1.25},{"x":7.5,"y":-3.45},{"x":7.5,"y":-3.2},{"x":7.5,"y":-2.4},{"x":7.5,"y":-1.5},{"x":7.75,"y":-3.5},{"x":7.75,"y":-2.8},{"x":7.75,"y":-2.0},{"x":7.75,"y":-1.6},
{"x":8,"y":-3.6},{"x":8,"y":-3.2},{"x":8,"y":-2.4},{"x":8,"y":-1.7},{"x":8.25,"y":-3.65},{"x":8.25,"y":-2.8},{"x":8.25,"y":-1.9},{"x":8.5,"y":-3.7},{"x":8.5,"y":-3.2},{"x":8.5,"y":-2.4},{"x":8.5,"y":-2.1},{"x":8.75,"y":-3.75},{"x":8.75,"y":-2.8},{"x":8.75,"y":-2.3},
{"x":9,"y":-3.8},{"x":9,"y":-3.2},{"x":9,"y":-2.5},{"x":9.25,"y":-3.9},{"x":9.25,"y":-3.6},{"x":9.25,"y":-2.7},{"x":9.5,"y":-4.0},{"x":9.5,"y":-3.2},{"x":9.5,"y":-2.9},{"x":9.75,"y":-4.1},{"x":9.75,"y":-3.6},{"x":9.75,"y":-3.05},
{"x":10,"y":-4.2},{"x":10,"y":-3.7},{"x":10,"y":-3.2},{"x":10.25,"y":-4.25},{"x":10.25,"y":-3.3},{"x":10.5,"y":-4.3},{"x":10.5,"y":-3.85},{"x":10.5,"y":-3.45},{"x":10.75,"y":-4.4},{"x":10.75,"y":-3.6},{"x":11,"y":-4.5},{"x":11,"y":-4.1},{"x":11,"y":-3.7},{"x":11.25,"y":-4.6},{"x":11.25,"y":-3.85},{"x":11.5,"y":-4.75},{"x":11.5,"y":-4.0},{"x":11.75,"y":-4.9},{"x":11.75,"y":-4.15},{"x":12,"y":-5.0},{"x":12,"y":-4.3},
{"x":12.25,"y":-4.5},{"x":12.5,"y":-4.6},{"x":12.5,"y":-5.1},{"x":12.75,"y":-4.8},{"x":13,"y":-4.7},{"x":13,"y":-5.3},{"x":13.25,"y":-5.0},{"x":13.5,"y":-5.1},{"x":13.5,"y":-5.5},{"x":13.75,"y":-5.3},{"x":14,"y":-5.4},{"x":14,"y":-5.8},{"x":14.25,"y":-5.6},{"x":14.5,"y":-5.7},{"x":14.5,"y":-6.1},{"x":14.75,"y":-5.9},{"x":15,"y":-6.0},{"x":15.25,"y":-6.1},{"x":15.5,"y":-6.3},{"x":15.75,"y":-6.5},{"x":16,"y":-6.6},{"x":16,"y":-6.9},{"x":16.25,"y":-6.9},{"x":16.5,"y":-7.0},{"x":16.75,"y":-7.0},{"x":16.75,"y":-7.3},{"x":17,"y":-7.4},
{"x":8.36,"y":1.67},{"x":9.33,"y":-0.29},{"x":3.8,"y":-1.55},{"x":4.52,"y":-2.43},{"x":5.36,"y":-3.16},{"x":6.62,"y":-4.04},{"x":10.17,"y":-5.35},{"x":10.12,"y":-6.08},{"x":11.4,"y":-6.23},{"x":11.86,"y":-7.4},{"x":11.3,"y":-5.2},{"x":12.54,"y":-5.58},{"x":13.3,"y":-6.37},{"x":13.79,"y":-7.4},{"x":14.46,"y":-7.84},{"x":14.46,"y":-9.68},{"x":18.08,"y":-10.1},{"x":18.71,"y":-8.04},{"x":19.39,"y":-8.33},{"x":12.77,"y":-6.37},{"x":6.78,"y":0.26},{"x":5.83,"y":1.08},{"x":5.13,"y":1.9},{"x":8.81,"y":-1.3}
]
},
"concat":[
{"data":{"name":"a"},"width":295,"height":285,"title":"Consumers","mark":"point",
"encoding":{"x":{"field":"x","type":"quantitative","scale":{"domain":[0,1],"nice":false,"zero":false},"axis":{"values":[0,0.5,1],"title":null,"labelExpr":"'' + datum.value"}},
"y":{"field":"y","type":"quantitative","scale":{"domain":[-15,10],"nice":false,"zero":false},"axis":{"values":[-15,-10,-5,0,5,10],"title":"€ million","labelExpr":"'' + datum.value"}}}},
{"data":{"name":"b"},"width":295,"height":285,"title":"Consumers","mark":"point",
"encoding":{"x":{"field":"x","type":"quantitative","scale":{"domain":[0,20],"nice":false,"zero":false},"axis":{"values":[0,10,20],"title":null,"labelExpr":"'' + datum.value"}},
"y":{"field":"y","type":"quantitative","scale":{"domain":[-15,10],"nice":false,"zero":false},"axis":{"values":[-15,-10,-5,0,5,10],"title":"€ million","labelExpr":"'' + datum.value"}}}},
{"data":{"name":"c"},"width":295,"height":285,"title":"Producers","mark":"point",
"encoding":{"x":{"field":"x","type":"quantitative","scale":{"domain":[0,1],"nice":false,"zero":false},"axis":{"values":[0,0.5,1],"title":null,"labelExpr":"'' + datum.value"}},
"y":{"field":"y","type":"quantitative","scale":{"domain":[-15,10],"nice":false,"zero":false},"axis":{"values":[-15,-10,-5,0,5,10],"title":"€ million","labelExpr":"'' + datum.value"}}}},
{"data":{"name":"d"},"width":295,"height":285,"title":"Producers","mark":"point",
"encoding":{"x":{"field":"x","type":"quantitative","scale":{"domain":[0,20],"nice":false,"zero":false},"axis":{"values":[0,10,20],"title":null,"labelExpr":"'' + datum.value"}},
"y":{"field":"y","type":"quantitative","scale":{"domain":[-15,10],"nice":false,"zero":false},"axis":{"values":[-15,-10,-5,0,5,10],"title":"€ million","labelExpr":"'' + datum.value"}}}},
{"data":{"name":"e"},"width":295,"height":285,"title":"Public funds","mark":"point",
"encoding":{"x":{"field":"x","type":"quantitative","scale":{"domain":[0,1],"nice":false,"zero":false},"axis":{"values":[0,0.5,1],"title":"Probability of spread","labelExpr":"'' + datum.value"}},
"y":{"field":"y","type":"quantitative","scale":{"domain":[-15,10],"nice":false,"zero":false},"axis":{"values":[-15,-10,-5,0,5,10],"title":"€ million","labelExpr":"'' + datum.value"}}}},
{"data":{"name":"f"},"width":295,"height":285,"title":"Public funds","mark":"point",
"encoding":{"x":{"field":"x","type":"quantitative","scale":{"domain":[0,20],"nice":false,"zero":false},"axis":{"values":[0,10,20],"title":"Number of infected farms","labelExpr":"'' + datum.value"}},
"y":{"field":"y","type":"quantitative","scale":{"domain":[-15,10],"nice":false,"zero":false},"axis":{"values":[-15,-10,-5,0,5,10],"title":"€ million","labelExpr":"'' + datum.value"}}}}
]
}
